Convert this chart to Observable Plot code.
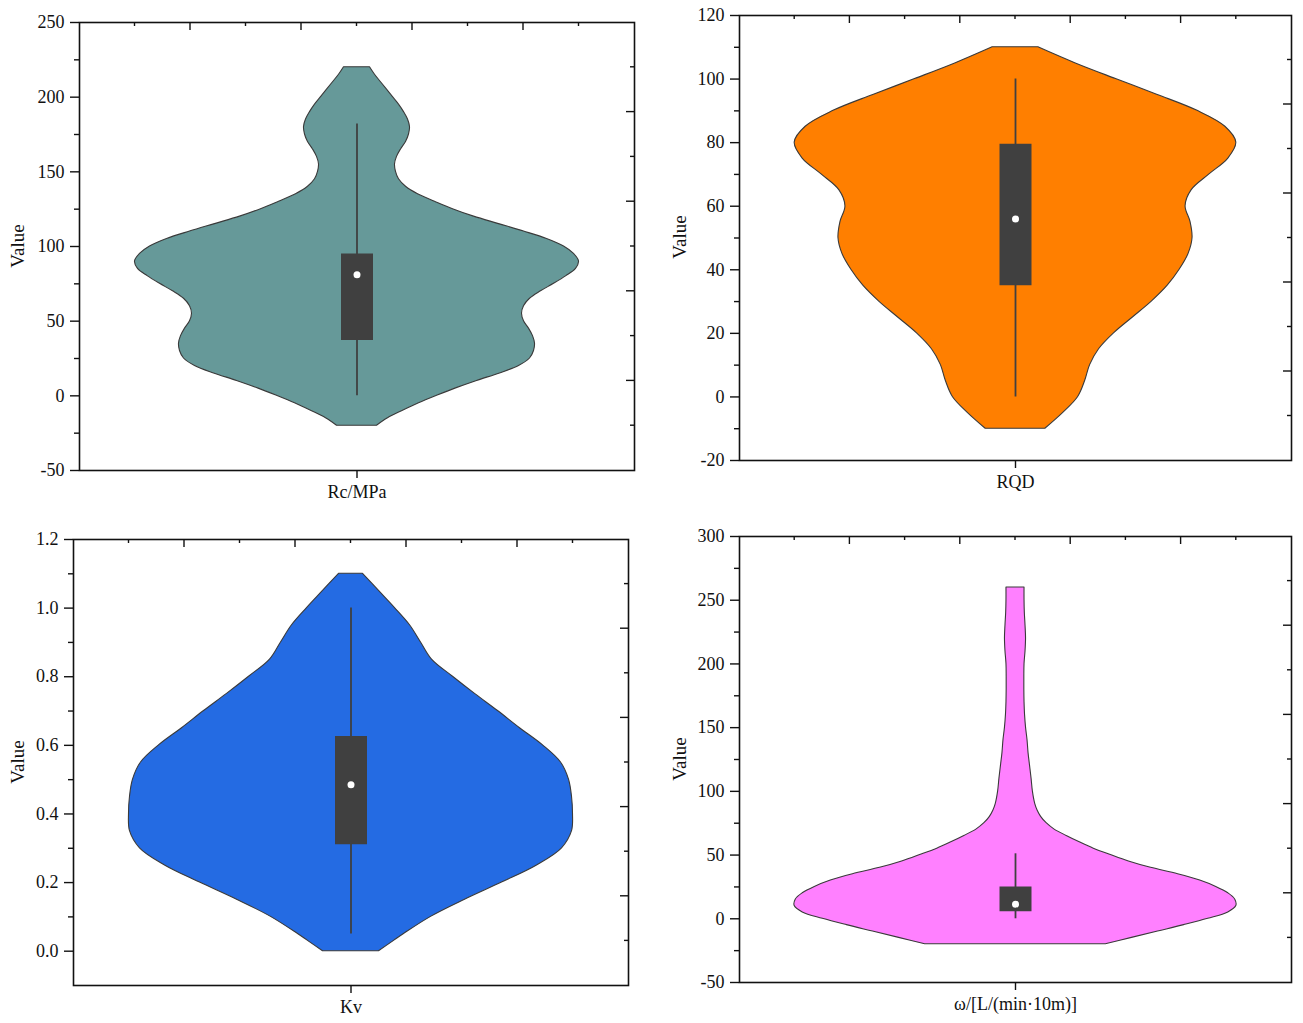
<!DOCTYPE html>
<html>
<head>
<meta charset="utf-8">
<script src="https://cdn.jsdelivr.net/npm/d3@7"></script>
<script src="https://cdn.jsdelivr.net/npm/@observablehq/plot@0.6"></script>
<style>
  body { margin: 0; background: #fff; }
  #wrap { position: relative; width: 1303px; height: 1023px; font-family: "Liberation Serif", "Times New Roman", serif; }
  .panel { position: absolute; }
  .ylab { position: absolute; font-size: 19px; color: #111; white-space: nowrap;
          transform: translate(-50%, -50%) rotate(-90deg); }
</style>
</head>
<body>
<div id="wrap"></div>
<script>
// Categories (one violin per panel)
const categories = ["Rc/MPa", "RQD", "Kv", "ω/[L/(min·10m)]"];
const fills = ["#669999", "#FF7F00", "#246BE3", "#FF80FF"];

// Kernel density outlines: sampled value and relative half-width
const rcValue = [-20,-15,-10,-5,0,5,10,15,20,25,30,35,40,45,50,55,60,65,70,75,80,85,90,95,100,105,110,115,120,125,130,135,140,145,150,155,160,165,170,175,180,185,190,195,200,205,210,215,220];
const rcDensity = [20,31,46,62,80,99,120,143,162,173,177,178,176,172,167,165,167,173,184,197,209,219,222,217,207,190,167,142,117,96,78,61,49,42,39,38,40,44,49,52,53,51,47,42,36,30,24,18,13];

const rqdValue = [-10,-5,0,5,10,15,20,25,30,35,40,45,50,55,60,65,70,75,80,85,90,95,100,105,110];
const rqdDensity = [30,48,63,70,75,84,99,118,137,153,165,174,178,176,171,177,195,214,222,211,183,143,101,60,23];

const kvValue = [0,0.03,0.05,0.1,0.15,0.2,0.25,0.3,0.35,0.4,0.45,0.5,0.55,0.6,0.65,0.7,0.75,0.8,0.85,0.9,0.95,1.0,1.05,1.1];
const kvDensity = [28,43,53,80,114,151,186,211,221,222,221,218,210,192,169,147,124,102,81,70,59,44,28,12];

const wValue = [-20,-15,-10,-5,0,5,10,15,20,25,30,35,40,45,50,55,60,65,70,75,80,85,90,100,110,120,130,140,150,160,170,180,190,200,210,220,230,240,250,260];
const wDensity = [90,116,142,168,192,212,220,219,212,200,184,162,135,113,95,78,64,51,39,31,25.5,22,19.7,17.3,16,14.5,13,12,10.5,9.5,9,8.8,8.8,9,10,10.5,10,9.3,9,9];

// Box-plot summaries
const q1 = [37, 35, 0.31, 5.5];
const median = [81, 56, 0.485, 11.5];
const q3 = [95, 79.5, 0.626, 25];
const whiskerLow = [0, 0, 0.05, 0];
const whiskerHigh = [182, 100, 1.0, 51];

// Y axes
const yDomains = [[-50, 250], [-20, 120], [-0.1, 1.2], [-50, 300]];
const yTicks = [
  [-50, 0, 50, 100, 150, 200, 250],
  [-20, 0, 20, 40, 60, 80, 100, 120],
  [0, 0.2, 0.4, 0.6, 0.8, 1.0, 1.2],
  [-50, 0, 50, 100, 150, 200, 250, 300]
];
const yMinor = [
  [-25, 25, 75, 125, 175, 225],
  [-10, 10, 30, 50, 70, 90, 110],
  [0.1, 0.3, 0.5, 0.7, 0.9, 1.1],
  [-25, 25, 75, 125, 175, 225, 275]
];
const yFormats = [d => String(d), d => String(d), d3.format(".1f"), d => String(d)];

// Panel placement on the page
const layout = [
  {left: 0,   top: 0,   width: 650, height: 510, ml: 79, mr: 16, mt: 22, mb: 40, labX: 18,  labY: 246},
  {left: 650, top: 0,   width: 653, height: 510, ml: 89, mr: 12, mt: 15, mb: 50, labX: 680, labY: 237},
  {left: 0,   top: 510, width: 650, height: 513, ml: 73, mr: 22, mt: 29, mb: 38, labX: 18,  labY: 762},
  {left: 650, top: 510, width: 653, height: 513, ml: 89, mr: 12, mt: 26, mb: 41, labX: 680, labY: 759}
];

const densities = [[rcValue, rcDensity], [rqdValue, rqdDensity], [kvValue, kvDensity], [wValue, wDensity]];

// Inward ticks on the top and right edges (ten divisions, long every other)
function innerTicks(index, scales, values, dims) {
  const {width, height, marginLeft: ml, marginRight: mr, marginTop: mt, marginBottom: mb} = dims;
  const iw = width - ml - mr, ih = height - mt - mb;
  const g = d3.create("svg:g").attr("stroke", "#111").attr("stroke-width", 1.4);
  for (let k = 1; k < 10; k++) {
    const len = k % 2 ? 4 : 8;
    const x = ml + k * iw / 10;
    g.append("line").attr("x1", x).attr("x2", x).attr("y1", mt).attr("y2", mt + len);
    const y = mt + k * ih / 10;
    g.append("line").attr("x1", width - mr).attr("x2", width - mr - len).attr("y1", y).attr("y2", y);
  }
  return g.node();
}

const wrap = document.getElementById("wrap");

categories.forEach((name, i) => {
  const L = layout[i];
  const [vals, dens] = densities[i];
  const maxD = d3.max(dens);
  const violin = vals.map((v, j) => ({v, w: dens[j] / maxD}));
  const stat = [{lo: whiskerLow[i], hi: whiskerHigh[i], q1: q1[i], q3: q3[i], med: median[i]}];

  const chart = Plot.plot({
    width: L.width,
    height: L.height,
    marginLeft: L.ml, marginRight: L.mr, marginTop: L.mt, marginBottom: L.mb,
    style: {fontFamily: "Liberation Serif, Times New Roman, serif", fontSize: "18px", color: "#111", background: "transparent", overflow: "visible"},
    x: {domain: [-1.25, 1.25]},
    y: {domain: yDomains[i]},
    marks: [
      Plot.areaX(violin, {
        y: "v", x1: d => -d.w, x2: d => d.w,
        fill: fills[i], stroke: "#3a3a3a", strokeWidth: 1.1, curve: "catmull-rom"
      }),
      Plot.ruleX(stat, {x: 0, y1: "lo", y2: "hi", stroke: "#404040", strokeWidth: 1.8}),
      Plot.ruleX(stat, {x: 0, y1: "q1", y2: "q3", stroke: "#404040", strokeWidth: 32, strokeLinecap: "butt"}),
      Plot.dot(stat, {x: 0, y: "med", r: 3.5, fill: "white", stroke: null}),
      Plot.frame({stroke: "#111", strokeWidth: 1.6}),
      innerTicks,
      Plot.axisY({ticks: yTicks[i], tickFormat: yFormats[i], tickSize: 9, tickPadding: 6, label: null, strokeWidth: 1.4, fontSize: 18}),
      Plot.axisY({ticks: yMinor[i], tickFormat: () => "", tickSize: 5, label: null, strokeWidth: 1.4}),
      Plot.axisX({ticks: [0], tickFormat: () => name, tickSize: 8, tickPadding: 7, label: null, strokeWidth: 1.4, fontSize: 18})
    ]
  });

  const div = document.createElement("div");
  div.className = "panel";
  div.style.left = L.left + "px";
  div.style.top = L.top + "px";
  div.appendChild(chart);
  wrap.appendChild(div);

  const lab = document.createElement("div");
  lab.className = "ylab";
  lab.style.left = L.labX + "px";
  lab.style.top = L.labY + "px";
  lab.textContent = "Value";
  wrap.appendChild(lab);
});
</script>
</body>
</html>
